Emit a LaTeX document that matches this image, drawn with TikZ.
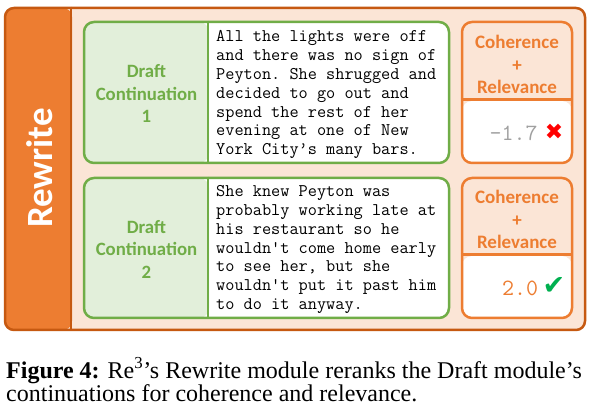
\documentclass[tikz,border=0pt]{standalone}
\usepackage{fontspec}
\setmainfont{Liberation Serif}
\setmonofont{Latin Modern Mono}
\newfontfamily\calfont{Carlito}
\newfontfamily\symfont{DejaVu Sans}
\definecolor{peach}{HTML}{FBE5D6}
\definecolor{orangec}{HTML}{ED7D31}
\definecolor{darkorange}{HTML}{C65911}
\definecolor{gborder}{HTML}{70AD47}
\definecolor{gfill}{HTML}{E2EFDA}
\definecolor{scoregray}{HTML}{A0A0A0}
\definecolor{checkgreen}{HTML}{00B050}
\tikzset{
  outerbox/.style={draw=darkorange, line width=2.5pt, fill=peach, rounded corners=9pt, inner sep=0pt},
  gbox/.style={draw=gborder, line width=2.5pt, fill=white, rounded corners=10pt, inner sep=0pt},
  sbox/.style={draw=orangec, line width=2.5pt, fill=peach, rounded corners=10pt, inner sep=0pt},
  glabel/.style={font=\calfont\bfseries\fontsize{18.8}{22.5}\selectfont, text=gborder, align=center, inner sep=0pt},
  slabel/.style={font=\calfont\bfseries\fontsize{19}{22.5}\selectfont, text=orangec, align=center, inner sep=0pt},
  story/.style={font=\ttfamily\fontsize{17.8}{18.8}\selectfont, align=left, anchor=north west, inner sep=0pt},
  score/.style={font=\ttfamily\fontsize{23.3}{26}\selectfont, inner sep=0pt},
  mark sym/.style={font=\symfont\fontsize{22}{26}\selectfont, inner sep=0pt},
  caption/.style={font=\fontsize{24}{24}\selectfont, anchor=base west, inner sep=0pt},
}
\begin{document}
\begin{tikzpicture}[x=1pt,y=-1pt]
\useasboundingbox[fill=white] (0,0) rectangle (590,417);
% outer frame with tab
\node[outerbox, minimum width=580, minimum height=322,
  path picture={\fill[orangec] (path picture bounding box.north west) rectangle ([xshift=67pt]path picture bounding box.south west);}]
  (outer) at (295,169) {};
\draw[darkorange, line width=2.5pt] ([xshift=67pt]outer.north west) -- ([xshift=67pt]outer.south west);
\node[rotate=90, text=white, font=\calfont\bfseries\fontsize{37}{40}\selectfont, inner sep=0pt] (rw) at (40,168) {Rewrite};

% row 1
\node[gbox, minimum width=365, minimum height=141,
  path picture={\fill[gfill] (path picture bounding box.south west) rectangle ([xshift=125pt]path picture bounding box.north west);}]
  (g1) at (266.5,92.5) {};
\draw[gborder, line width=2.5pt] ([xshift=125pt]g1.north west) -- ([xshift=125pt]g1.south west);
\node[glabel] (l1) at (146.5,93.5) {Draft\\Continuation\\1};
\node[story] (t1) at (216,30.5) {All the lights were off\\and there was no sign of\\Peyton. She shrugged and\\decided to go out and\\spend the rest of her\\evening at one of New\\York City’s many bars.};
\node[sbox, minimum width=110, minimum height=141,
  path picture={\fill[white] ([yshift=-79pt]path picture bounding box.north west) rectangle (path picture bounding box.south east);}]
  (s1) at (517,92.5) {};
\draw[orangec, line width=2.5pt] ([yshift=-79pt]s1.north west) -- ([yshift=-79pt]s1.north east);
\node[slabel] (c1) at (517,64.5) {Coherence\\+\\Relevance};
\node[score, text=scoregray] (v1) at (513.5,133) {-1.7};
\node[mark sym, text=red] (x1) at (554,132) {✖};

% row 2
\node[gbox, minimum width=365, minimum height=140,
  path picture={\fill[gfill] (path picture bounding box.south west) rectangle ([xshift=125pt]path picture bounding box.north west);}]
  (g2) at (266.5,248) {};
\draw[gborder, line width=2.5pt] ([xshift=125pt]g2.north west) -- ([xshift=125pt]g2.south west);
\node[glabel] (l2) at (146.5,249) {Draft\\Continuation\\2};
\node[story] (t2) at (216,185.5) {She knew Peyton was\\probably working late at\\his restaurant so he\\wouldn't come home early\\to see her, but she\\wouldn't put it past him\\to do it anyway.};
\node[sbox, minimum width=110, minimum height=140,
  path picture={\fill[white] ([yshift=-78pt]path picture bounding box.north west) rectangle (path picture bounding box.south east);}]
  (s2) at (517,248) {};
\draw[orangec, line width=2.5pt] ([yshift=-78pt]s2.north west) -- ([yshift=-78pt]s2.north east);
\node[slabel] (c2) at (517,219.5) {Coherence\\+\\Relevance};
\node[score, text=orangec] (v2) at (520,288) {2.0};
\node[mark sym, text=checkgreen, font=\symfont\fontsize{27}{30}\selectfont] (k2) at (554,286) {✔};

% caption
\node[caption] (cap1) at (6,378) {\textbf{Figure 4:} Re\textsuperscript{3}'s Rewrite module reranks the Draft module's};
\node[caption] (cap2) at (6,402) {continuations for coherence and relevance.};
\end{tikzpicture}
\end{document}
